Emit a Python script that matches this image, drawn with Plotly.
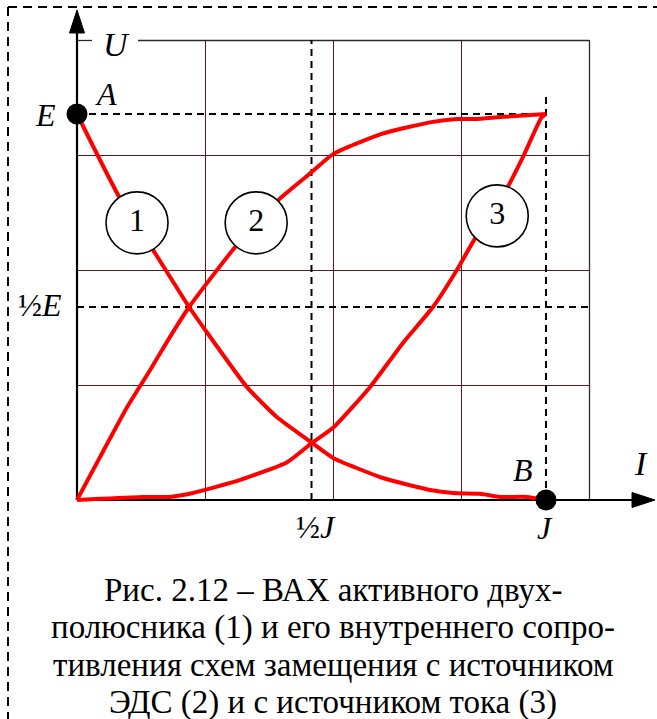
import plotly.graph_objects as go

# Current-voltage characteristics, I in units of J, U in units of E
i1 = [0, 0.090, 0.162, 0.239, 0.269, 0.362, 0.426, 0.501, 0.546, 0.652, 0.753, 0.802, 0.859, 0.902, 0.959, 1.0]
u1 = [1.0, 0.785, 0.648, 0.500, 0.448, 0.293, 0.215, 0.148, 0.109, 0.057, 0.026, 0.018, 0.016, 0.008, 0.008, 0.0]

i2 = [0, 0.049, 0.107, 0.156, 0.198, 0.239, 0.337, 0.429, 0.501, 0.546, 0.648, 0.755, 0.810, 0.849, 0.902, 1.0]
u2 = [0, 0.111, 0.241, 0.337, 0.422, 0.500, 0.655, 0.777, 0.850, 0.896, 0.948, 0.979, 0.987, 0.987, 0.992, 1.0]

i3 = [0, 0.049, 0.141, 0.198, 0.247, 0.348, 0.448, 0.501, 0.546, 0.625, 0.695, 0.759, 0.810, 0.844, 0.917, 0.951, 0.991, 1.0]
u3 = [0, 0.003, 0.008, 0.008, 0.018, 0.052, 0.098, 0.148, 0.187, 0.293, 0.407, 0.500, 0.596, 0.668, 0.808, 0.889, 0.992, 1.0]

# circled curve numbers
label_i = [0.128, 0.382, 0.896]
label_u = [0.718, 0.718, 0.736]
label_text = ["1", "2", "3"]

# end points A (open circuit) and B (short circuit)
point_i = [0.0, 1.0]
point_u = [1.0, 0.0]

caption = [
    "Рис. 2.12 – ВАХ активного двух-",
    "полюсника (1) и его внутреннего сопро-",
    "тивления схем замещения с источником",
    "ЭДС (2) и с источником тока (3)",
]

W, H = 657, 719
OX, OY = 77, 500          # origin on the page
SX, SY = 469, 386         # pixels for J and for E
GX, GY = 128 / SX, 115 / SY   # background grid step
NG = 4
HALF_X, HALF_Y = 0.5 / SX, 0.5 / SY   # half-pixel offset for crisp 1px lines

def X(px):
    return (px - OX) / SX

def Y(py):
    return (OY - py) / SY

FONT = "'Liberation Serif', 'Times New Roman', serif"
RED = "#ff0000"
GRID = "#5e1a1a"

shapes = []

# grid
for k in range(1, NG):
    gx = k * GX + HALF_X
    gy = k * GY - HALF_Y
    shapes.append(dict(type="line", x0=gx, x1=gx, y0=0, y1=NG * GY,
                       line=dict(color=GRID, width=1), layer="below"))
    shapes.append(dict(type="line", x0=0, x1=NG * GX, y0=gy, y1=gy,
                       line=dict(color=GRID, width=1), layer="below"))
# outer grid border (top line broken for the U label)
border = dict(color="#2a2a2a", width=1.3)
shapes.append(dict(type="line", x0=NG * GX + HALF_X, x1=NG * GX + HALF_X, y0=0, y1=NG * GY,
                   line=border, layer="below"))
shapes.append(dict(type="line", x0=0, x1=X(92), y0=NG * GY - HALF_Y, y1=NG * GY - HALF_Y,
                   line=border, layer="below"))
shapes.append(dict(type="line", x0=X(138), x1=NG * GX, y0=NG * GY - HALF_Y, y1=NG * GY - HALF_Y,
                   line=border, layer="below"))

# dashed guides at E, E/2, J, J/2
dash = dict(color="black", width=2, dash="7px,5px")
shapes += [
    dict(type="line", x0=0, x1=1, y0=1, y1=1, line=dash, layer="below"),
    dict(type="line", x0=0, x1=NG * GX, y0=0.5, y1=0.5, line=dash, layer="below"),
    dict(type="line", x0=0.5, x1=0.5, y0=0, y1=NG * GY, line=dash, layer="below"),
    dict(type="line", x0=1, x1=1, y0=0, y1=Y(96), line=dash, layer="below"),
]

# axes with arrow heads
shapes += [
    dict(type="line", x0=0, x1=X(634), y0=0, y1=0, line=dict(color="black", width=2.2), layer="below"),
    dict(type="line", x0=0, x1=0, y0=0, y1=Y(30), line=dict(color="black", width=2.2), layer="below"),
    dict(type="path", path=f"M {X(655)},{Y(500)} L {X(632)},{Y(507.5)} L {X(632)},{Y(492.5)} Z",
         fillcolor="black", line=dict(color="black", width=1)),
    dict(type="path", path=f"M {X(77)},{Y(10)} L {X(69.5)},{Y(33)} L {X(84.5)},{Y(33)} Z",
         fillcolor="black", line=dict(color="black", width=1)),
]

# dashed page frame
frame = dict(color="black", width=2, dash="9px,6px")
shapes += [
    dict(type="line", xref="paper", yref="paper", x0=8 / W, x1=1, y0=1 - 7 / H, y1=1 - 7 / H, line=frame),
    dict(type="line", xref="paper", yref="paper", x0=8 / W, x1=8 / W, y0=1 - 7 / H, y1=0, line=frame),
]

fig = go.Figure()
for xs, ys in ((i1, u1), (i2, u2), (i3, u3)):
    fig.add_trace(go.Scatter(x=xs, y=ys, mode="lines",
                             line=dict(color=RED, width=4, shape="spline", smoothing=0.5),
                             hoverinfo="skip", showlegend=False))

fig.add_trace(go.Scatter(x=label_i, y=label_u, mode="markers+text", text=label_text,
                         textposition="middle center",
                         textfont=dict(family=FONT, size=32, color="black"),
                         marker=dict(size=62, color="white", line=dict(color="black", width=1.6)),
                         hoverinfo="skip", showlegend=False))

fig.add_trace(go.Scatter(x=point_i, y=point_u, mode="markers",
                         marker=dict(size=21, color="black"),
                         hoverinfo="skip", showlegend=False))

def lab(px, py, text, size=32):
    return dict(x=X(px), y=Y(py), xref="x", yref="y", text=text, showarrow=False,
                font=dict(family=FONT, size=size, color="black"),
                xanchor="center", yanchor="middle")

annotations = [
    lab(116, 44, "<i>U</i>", 34),
    lab(106, 94, "<i>A</i>"),
    lab(45, 115, "<i>E</i>"),
    lab(40, 305, "½<i>E</i>"),
    lab(316, 527, "½<i>J</i>"),
    lab(545, 528, "<i>J</i>"),
    lab(523, 470, "<i>B</i>"),
    lab(641, 463, "<i>I</i>", 34),
]

for k, line in enumerate(caption):
    annotations.append(dict(x=333 / W, y=1 - (590 + 37.5 * k) / H, xref="paper", yref="paper",
                            text=line, showarrow=False, xanchor="center", yanchor="middle",
                            borderpad=0,
                            font=dict(family=FONT, size=33, color="black")))

fig.update_layout(
    width=W, height=H, autosize=False,
    margin=dict(l=0, r=0, t=0, b=0),
    paper_bgcolor="white", plot_bgcolor="white",
    font=dict(family=FONT),
    xaxis=dict(range=[X(0), X(W)], visible=False, fixedrange=True),
    yaxis=dict(range=[Y(H), Y(0)], visible=False, fixedrange=True),
    shapes=shapes, annotations=annotations,
)

fig.write_html("out.html")
